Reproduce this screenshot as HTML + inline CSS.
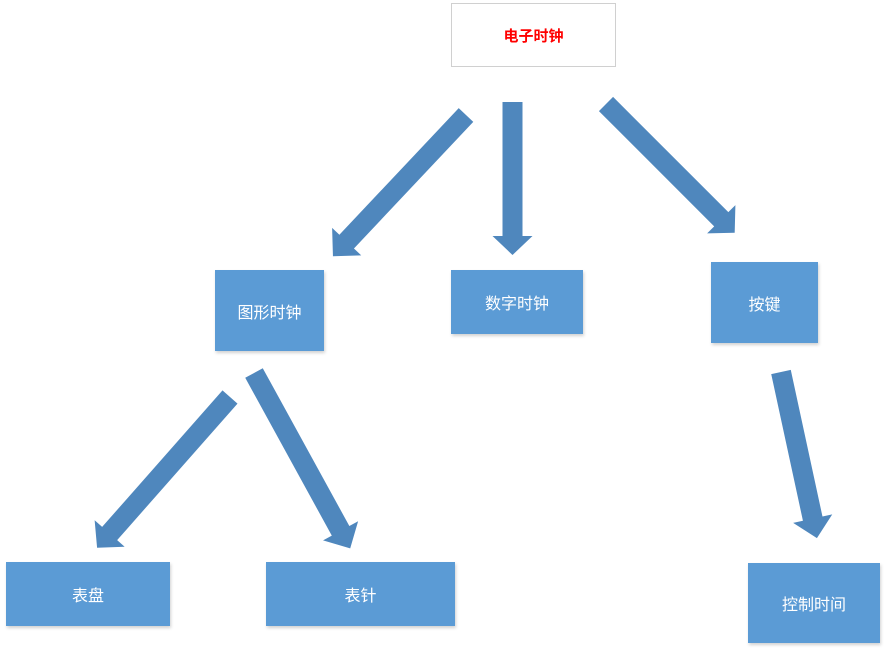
<!DOCTYPE html>
<html><head><meta charset="utf-8"><style>
body{margin:0;background:#fff;width:887px;height:653px;overflow:hidden;position:relative;font-family:"Liberation Sans","Noto Sans CJK SC",sans-serif}
.b{position:absolute;background:#5b9bd5;color:#fff;font-size:16px;display:flex;align-items:center;justify-content:center;box-shadow:1px 2px 3px rgba(0,0,0,.18)}
</style></head><body>
<svg width="887" height="653" style="position:absolute;left:0;top:0">
<g fill="#4f87bd">
<g transform="translate(466,115) rotate(133.3)"><polygon points="0,-10 174,-10 174,-20 194,0 174,20 174,10 0,10"/></g>
<g transform="translate(512.5,102) rotate(90)"><polygon points="0,-10 134,-10 134,-20 153,0 134,20 134,10 0,10"/></g>
<g transform="translate(606,104) rotate(45)"><polygon points="0,-10 163,-10 163,-20 182,0 163,20 163,10 0,10"/></g>
<g transform="translate(230,397) rotate(131.4)"><polygon points="0,-10 182,-10 182,-20 201,0 182,20 182,10 0,10"/></g>
<g transform="translate(254,373) rotate(61.25)"><polygon points="0,-10 180,-10 180,-20 200,0 180,20 180,10 0,10"/></g>
<g transform="translate(781,372) rotate(77.8)"><polygon points="0,-10 150,-10 150,-20 170,0 150,20 150,10 0,10"/></g>
</g>
</svg>
<div class="b" style="left:451px;top:3px;width:163px;height:62px;background:#fff;border:1px solid #d0d0d0;box-shadow:none;color:#f00;font-weight:bold;font-size:15px">电子时钟</div>
<div class="b" style="left:215px;top:270px;width:109px;height:81px">图形时钟</div>
<div class="b" style="left:451px;top:270px;width:132px;height:64px">数字时钟</div>
<div class="b" style="left:711px;top:262px;width:107px;height:81px">按键</div>
<div class="b" style="left:6px;top:562px;width:164px;height:64px">表盘</div>
<div class="b" style="left:266px;top:562px;width:189px;height:64px">表针</div>
<div class="b" style="left:748px;top:563px;width:132px;height:80px">控制时间</div>
</body></html>
